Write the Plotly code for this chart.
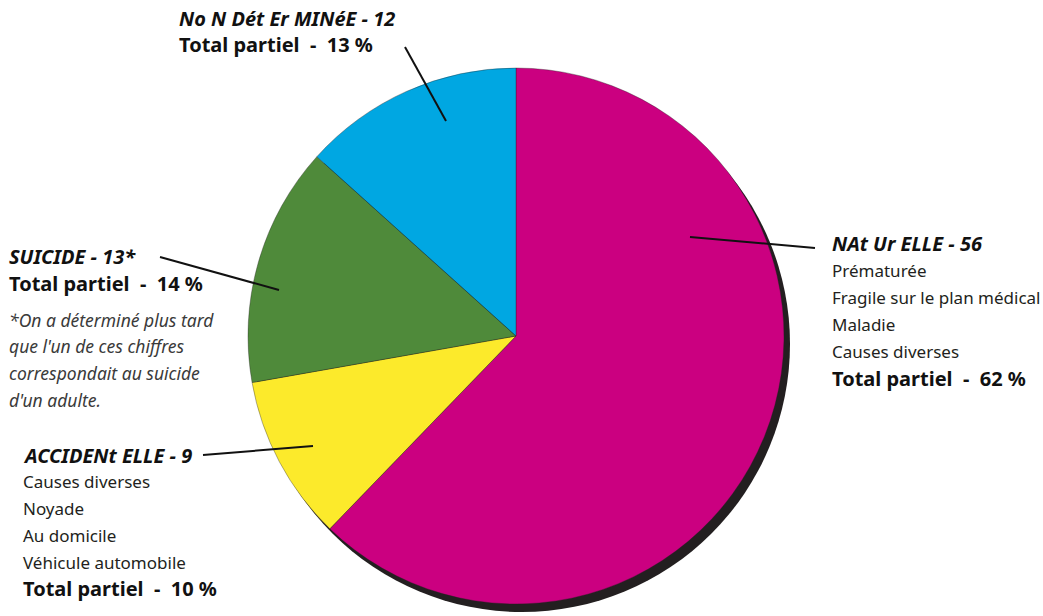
import plotly.graph_objects as go

W, H = 1043, 616

# Categories and counts, in clockwise order from 12 o'clock
categories = ["NAt Ur ELLE", "ACCIDENt ELLE", "SUICIDE", "No N Dét Er MINéE"]
counts = [56, 9, 13, 12]
percents = [62, 10, 14, 13]
colors = ["#CB0080", "#FCEA2B", "#4F8A3A", "#00A7E2"]

details = {
    "NAt Ur ELLE": ["Prématurée", "Fragile sur le plan médical", "Maladie", "Causes diverses"],
    "ACCIDENt ELLE": ["Causes diverses", "Noyade", "Au domicile", "Véhicule automobile"],
    "SUICIDE": [],
    "No N Dét Er MINéE": [],
}
footnote = ["*On a déterminé plus tard", "que l'un de ces chiffres",
            "correspondait au suicide", "d'un adulte."]

# pie geometry (pixels)
cx, cy, r = 516, 336, 268
shadow_dx, shadow_dy = 6, 8


def px(x):
    return x / W


def py(y):
    return 1 - y / H


fig = go.Figure()
fig.add_trace(go.Pie(
    labels=categories,
    values=counts,
    sort=False,
    direction="clockwise",
    rotation=0,
    marker=dict(colors=colors, line=dict(color="rgba(35,31,32,0.45)", width=0.8)),
    textinfo="none",
    hoverinfo="label+value",
    showlegend=False,
    domain=dict(x=[px(cx - r), px(cx + r)], y=[py(cy + r), py(cy - r)]),
))

shapes = [
    # drop shadow behind the pie
    dict(type="circle", xref="paper", yref="paper", layer="below",
         x0=px(cx - r + shadow_dx), x1=px(cx + r + shadow_dx),
         y0=py(cy + r + shadow_dy), y1=py(cy - r + shadow_dy),
         fillcolor="#231F20", line=dict(width=0)),
]

# leader lines: (x0, y0) near label -> (x1, y1) inside slice
leaders = [
    (405, 47, 446, 121),
    (815, 248, 690, 237),
    (160, 257, 279, 290),
    (203, 455, 313, 446),
]
for x0, y0, x1, y1 in leaders:
    shapes.append(dict(type="line", xref="paper", yref="paper",
                       x0=px(x0), y0=py(y0), x1=px(x1), y1=py(y1),
                       line=dict(color="#111111", width=2)))

FONT = "Noto Sans"
NB = "\u00a0"
annotations = []


def add_text(x, y, text, size, color="#111111", bold=False, italic=False):
    t = text
    if bold:
        t = f"<b>{t}</b>"
    if italic:
        t = f"<i>{t}</i>"
    annotations.append(dict(
        x=px(x - 3), y=py(y), xref="paper", yref="paper", text=t,
        showarrow=False, xanchor="left", yanchor="middle",
        font=dict(family=FONT, size=size, color=color),
    ))


def total_text(p):
    return f"Total partiel{NB}{NB}-{NB}{NB}{p}{NB}%"


# label block anchors: (x, y of first line)
blocks = {
    "NAt Ur ELLE": (833, 244),
    "ACCIDENt ELLE": (24, 455),
    "SUICIDE": (10, 257),
    "No N Dét Er MINéE": (180, 18),
}
line_gap = 26.8

for cat, n, p in zip(categories, counts, percents):
    x, y = blocks[cat]
    star = "*" if cat == "SUICIDE" else ""
    add_text(x, y, f"{cat} - {n}{star}", 20, bold=True, italic=True)
    yy = y
    for d in details[cat]:
        yy += line_gap
        add_text(x, yy, d, 17, color="#231F20")
    yy += line_gap
    add_text(x, yy, total_text(p), 20, bold=True)
    if cat == "SUICIDE":
        yy += 9
        for f in footnote:
            yy += line_gap
            add_text(x, yy, f, 17.5, color="#3a3a3a", italic=True)

fig.update_layout(
    width=W, height=H, autosize=False,
    margin=dict(l=0, r=0, t=0, b=0),
    paper_bgcolor="white", plot_bgcolor="white",
    shapes=shapes, annotations=annotations,
)

fig.write_html("out.html")
